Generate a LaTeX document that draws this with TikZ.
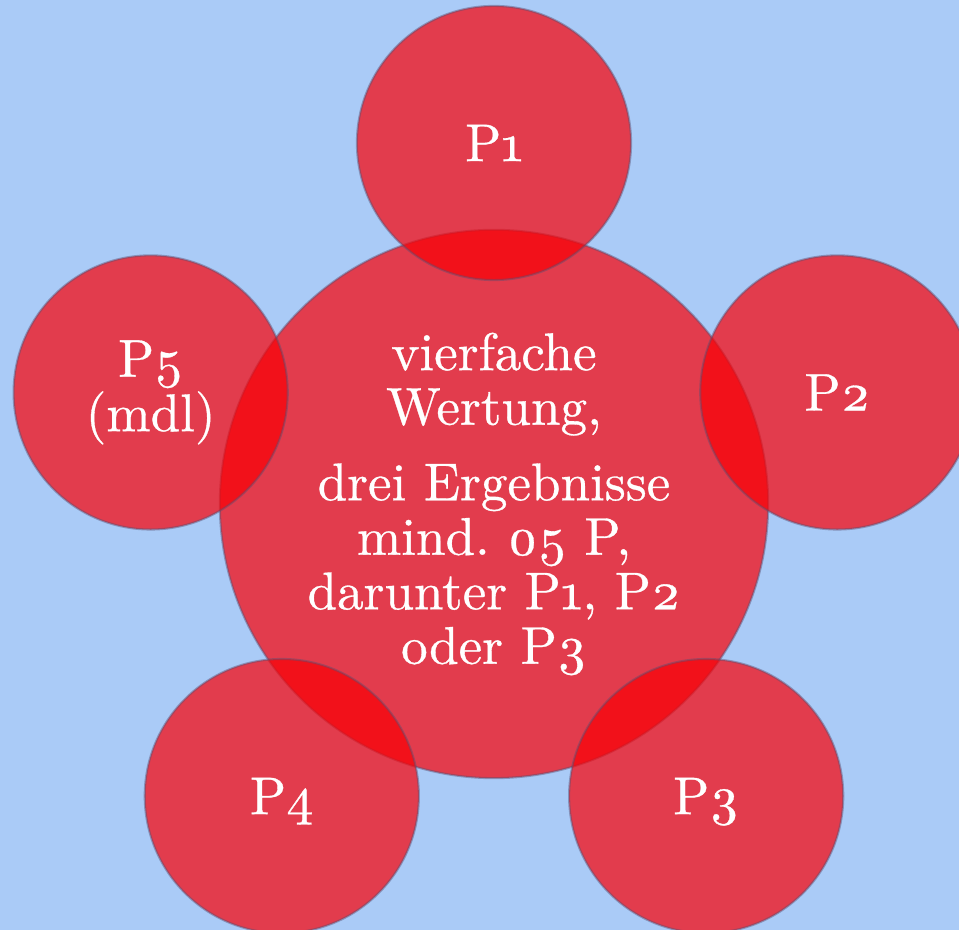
\documentclass[tikz,border=0pt]{standalone}
\usepackage{fontspec}
\usepackage{tikz}
\usetikzlibrary{calc}
\newfontfamily\diskfont{lmroman10-regular}[Extension=.otf,Numbers=OldStyle,FakeBold=0.6]
\definecolor{BackBlue}{HTML}{AACBF7}
\definecolor{DiskRed}{HTML}{FA0005}
\definecolor{DiskRim}{HTML}{5A4F72}

\begin{document}
\begin{tikzpicture}[x=0.01cm,y=0.01cm,
    disk/.style={circle,inner sep=0pt,fill=DiskRed,fill opacity=0.7,text opacity=1,
      draw=DiskRim,draw opacity=0.45,line width=0.6pt,text=white,align=center,
      font=\diskfont\fontsize{15.1}{15.5}\selectfont\frenchspacing}]
    \clip (0,0) rectangle (959,930);
    \fill[BackBlue] (0,0) rectangle (959,930);
    \node[disk,minimum size=5.48cm] (core) at (494,426)
      {vierfache\\Wertung,\\[6pt]drei Ergebnisse\\mind. 05 P,\\
       darunter P1, P2\\oder P3};
    \foreach \angle/\name/\txt in {90/P1/{P\smash{1}},
        18/P2/{P\smash{2}},-54/P3/{P\smash{3}},
        234/P4/{P\smash{4}},162/P5/{P5\\(mdl)}} {
     \node[disk,minimum size=2.74cm] (\name) at ($(core)+(\angle:361)$) {\txt};
    }
\end{tikzpicture}
\end{document}
